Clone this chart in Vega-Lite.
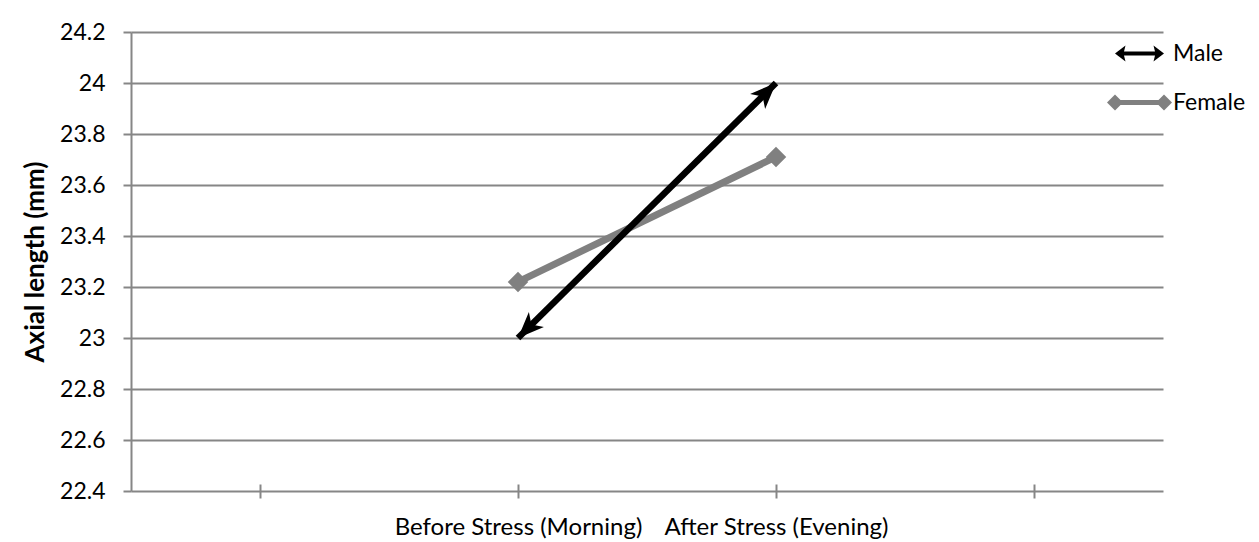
{
  "$schema": "https://vega.github.io/schema/vega-lite/v6.json",
  "autosize": {"type": "none"},
  "padding": {"left": 131, "top": 32, "right": 96, "bottom": 51},
  "width": 1032,
  "height": 459,
  "background": "white",
  "config": {"view": {"stroke": null}},
  "data": {
    "values": [
      {"series": "Male", "time": "Before Stress (Morning)", "value": 23.0},
      {"series": "Male", "time": "After Stress (Evening)", "value": 24.0},
      {"series": "Female", "time": "Before Stress (Morning)", "value": 23.22},
      {"series": "Female", "time": "After Stress (Evening)", "value": 23.71}
    ]
  },
  "encoding": {
    "x": {
      "field": "time",
      "type": "nominal",
      "sort": null,
      "scale": {"type": "point", "domain": ["", "Before Stress (Morning)", "After Stress (Evening)", " "], "padding": 0.5},
      "axis": {
        "title": null,
        "domain": false,
        "grid": false,
        "offset": -7,
        "tickSize": 14,
        "tickColor": "#868686",
        "tickWidth": 2,
        "labelPadding": 17,
        "labelAngle": 0,
        "labelLimit": 0,
        "labelOverlap": false,
        "labelFont": "Lato",
        "labelFontSize": 24,
        "labelColor": "black"
      }
    },
    "y": {
      "field": "value",
      "type": "quantitative",
      "scale": {"domain": [22.4, 24.2], "nice": false, "zero": false},
      "axis": {
        "title": "Axial length (mm)",
        "values": [22.4, 22.6, 22.8, 23.0, 23.2, 23.4, 23.6, 23.8, 24.0, 24.2],
        "format": ".1~f",
        "grid": true,
        "gridColor": "#868686",
        "gridWidth": 2,
        "domainColor": "#868686",
        "domainWidth": 2,
        "tickColor": "#868686",
        "tickWidth": 2,
        "tickSize": 8,
        "labelPadding": 18,
        "labelFont": "Lato",
        "labelFontSize": 23,
        "labelColor": "black",
        "titleFont": "Lato",
        "titleFontSize": 26,
        "titleFontWeight": "bold",
        "titleColor": "black",
        "titlePadding": 11
      }
    }
  },
  "layer": [
    {
      "mark": {"type": "point", "filled": true, "opacity": 0},
      "encoding": {
        "color": {
          "field": "series",
          "type": "nominal",
          "scale": {"domain": ["Male", "Female"], "range": ["#000000", "#808080"]},
          "legend": {
            "title": null,
            "orient": "none",
            "legendX": 997,
            "legendY": 10,
            "padding": 0,
            "symbolSize": 400,
            "symbolOpacity": 1,
            "symbolStrokeWidth": 0,
            "labelOffset": 22,
            "rowPadding": 25,
            "labelFont": "Lato",
            "labelFontSize": 23,
            "labelColor": "black"
          }
        },
        "shape": {
          "field": "series",
          "type": "nominal",
          "scale": {
            "domain": ["Male", "Female"],
            "range": [
              "M-2.45,0 L-1.4,-0.8 L-1.55,-0.2 L1.55,-0.2 L1.4,-0.8 L2.45,0 L1.4,0.8 L1.55,0.2 L-1.55,0.2 L-1.4,0.8 Z",
              "M-3.25,0 L-2.45,-0.8 L-1.9,-0.25 L1.9,-0.25 L2.45,-0.8 L3.25,0 L2.45,0.8 L1.9,0.25 L-1.9,0.25 L-2.45,0.8 Z"
            ]
          },
          "legend": {
            "title": null,
            "orient": "none",
            "legendX": 997,
            "legendY": 10,
            "padding": 0,
            "symbolSize": 400,
            "symbolOpacity": 1,
            "symbolStrokeWidth": 0,
            "labelOffset": 22,
            "rowPadding": 25,
            "labelFont": "Lato",
            "labelFontSize": 23,
            "labelColor": "black"
          }
        }
      }
    },
    {
      "transform": [{"filter": "datum.series === 'Female'"}],
      "mark": {"type": "line", "color": "#808080", "strokeWidth": 7}
    },
    {
      "transform": [{"filter": "datum.series === 'Female'"}],
      "mark": {"type": "point", "shape": "diamond", "filled": true, "size": 420, "color": "#808080", "opacity": 1}
    },
    {
      "transform": [{"filter": "datum.series === 'Male'"}],
      "mark": {"type": "line", "color": "#000000", "strokeWidth": 6.5}
    },
    {
      "transform": [{"filter": "datum.series === 'Male' && datum.time === 'After Stress (Evening)'"}],
      "mark": {"type": "point", "shape": "M0,0 L0.9,2.2 L0,1.6 L-0.9,2.2 Z", "angle": 45, "filled": true, "size": 560, "color": "#000000", "opacity": 1}
    },
    {
      "transform": [{"filter": "datum.series === 'Male' && datum.time === 'Before Stress (Morning)'"}],
      "mark": {"type": "point", "shape": "M0,0 L0.9,2.2 L0,1.6 L-0.9,2.2 Z", "angle": 225, "filled": true, "size": 560, "color": "#000000", "opacity": 1}
    }
  ]
}
